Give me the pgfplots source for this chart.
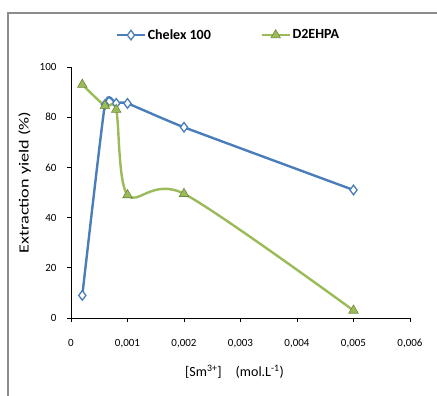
\documentclass[border=0pt]{standalone}
\usepackage{fontspec}
\setmainfont{Carlito}
\usepackage{pgfplots}
\pgfplotsset{compat=1.18}
\definecolor{cblue}{HTML}{4A7EBB}
\definecolor{cgreen}{HTML}{9BBB59}
\definecolor{cgreendk}{HTML}{71893F}
\begin{document}
\begin{tikzpicture}
\useasboundingbox (0,0) rectangle (437pt,396pt);
\draw[gray!90, line width=1.2pt] (8pt,0) -- (8pt,383pt) -- (437pt,383pt);
\begin{axis}[
  at={(71pt,78pt)}, anchor=south west,
  scale only axis, width=339pt, height=251pt,
  xmin=0, xmax=0.006, ymin=0, ymax=100,
  scaled x ticks=false,
  axis lines=left, axis line style={-, black, line width=0.8pt},
  tick align=outside, major tick length=4pt,
  tick style={black, line width=0.6pt},
  xtick={0,0.001,0.002,0.003,0.004,0.005,0.006},
  xticklabels={0,{0,001},{0,002},{0,003},{0,004},{0,005},{0,006}},
  ytick={0,20,40,60,80,100},
  /pgf/number format/assume math mode=true,
  ticklabel style={font=\fontsize{11}{13}\selectfont},
  xticklabel style={yshift=-14pt},
  yticklabel style={xshift=-7pt},
  xlabel={[Sm\textsuperscript{3+}]\quad(mol.L\textsuperscript{-1})},
  ylabel={\scalebox{1.3}[1]{Extraction yield (\%)}},
  label style={font=\fontsize{14}{16}\selectfont},
  xlabel style={yshift=-10pt, xshift=-6pt},
  ylabel style={yshift=2pt, xshift=10pt},
  legend columns=2,
  legend image code/.code={\draw[mark repeat=2, mark phase=2, line width=1.6pt]
    plot coordinates {(0pt,0pt) (14pt,0pt) (28pt,0pt)};},
  legend style={at={(0.465,1.127)}, anchor=center, draw=none, fill=none,
    font=\fontsize{14}{16}\selectfont\bfseries,
    /tikz/every even column/.append style={column sep=48pt}},
  legend cell align=left,
]
\addplot[cblue, line width=2.4pt, smooth, tension=0.3,
  mark=diamond*, mark size=4.8pt,
  mark options={fill=white, draw=cblue, line width=1.3pt, solid}]
  coordinates {(0.0002,9) (0.0006,85) (0.0008,85.5) (0.001,85.5) (0.002,76) (0.005,51)};
\addlegendentry{Chelex 100}
\addplot[cgreen, line width=2.4pt, smooth, tension=0.5,
  mark=triangle*, mark size=5.5pt,
  mark options={fill=cgreen, draw=cgreendk, line width=0.6pt, solid}]
  coordinates {(0.0002,93) (0.0006,84.5) (0.0008,83) (0.001,49) (0.002,49.5) (0.005,3)};
\addlegendentry{D2EHPA}
\end{axis}
\end{tikzpicture}
\end{document}
